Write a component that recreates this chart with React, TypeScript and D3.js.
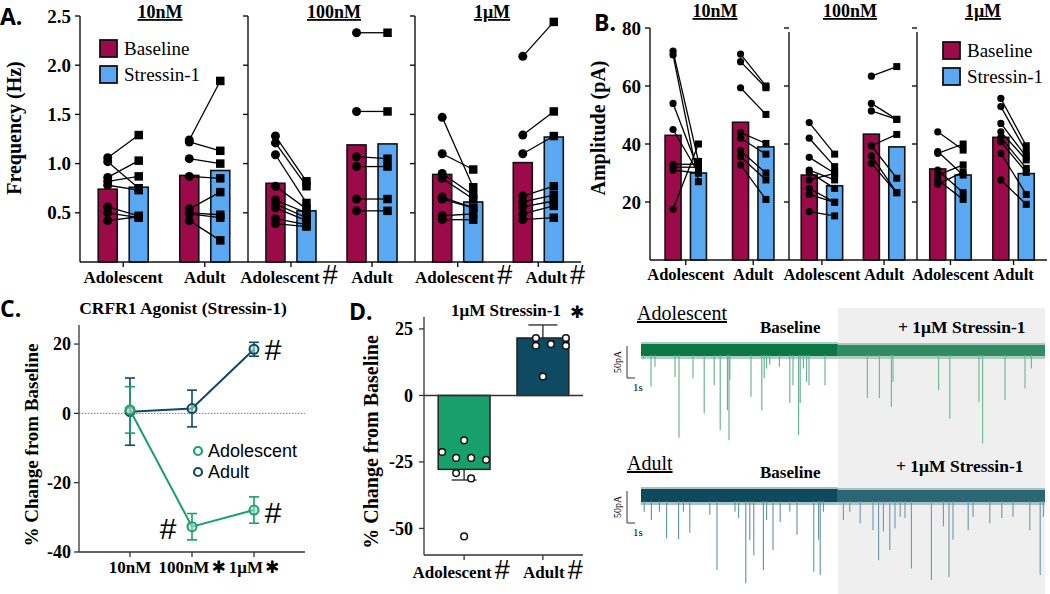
import React from 'react';
import * as d3 from 'd3';

// ---------- shared categories ----------
const GROUPS = ['Adolescent', 'Adult'];
const CONCS = ['10nM', '100nM', '1μM'];

// ---------- Panel A: frequency (Hz) ----------
const freqTicks = [0.5, 1.0, 1.5, 2.0, 2.5];
const freqBaselineMean = [[0.74, 0.88], [0.80, 1.19], [0.89, 1.01]]; // [conc][group]
const freqStressinMean = [[0.76, 0.93], [0.52, 1.20], [0.61, 1.27]];
const freqAdol10nM = [[1.06, 1.29], [1.02, 0.75], [0.86, 1.03], [0.82, 0.87], [0.78, 0.73], [0.56, 0.47], [0.50, 0.45], [0.42, 0.46]];
const freqAdult10nM = [[1.24, 1.84], [1.22, 1.13], [1.05, 1.0], [0.87, 0.85], [0.54, 0.71], [0.50, 0.48], [0.49, 0.45], [0.42, 0.22]];
const freqAdol100nM = [[1.28, 0.82], [1.21, 0.77], [1.09, 0.60], [0.77, 0.54], [0.63, 0.50], [0.59, 0.45], [0.55, 0.42], [0.44, 0.38], [0.39, 0.36]];
const freqAdult100nM = [[2.33, 2.33], [1.53, 1.53], [1.07, 1.05], [0.97, 0.97], [0.64, 0.64], [0.52, 0.52]];
const freqAdol1uM = [[1.47, 0.76], [1.10, 0.94], [0.90, 0.68], [0.85, 0.64], [0.66, 0.55], [0.64, 0.55], [0.47, 0.49], [0.43, 0.43]];
const freqAdult1uM = [[2.09, 2.44], [1.29, 1.53], [1.10, 1.28], [0.67, 0.77], [0.61, 0.68], [0.56, 0.62], [0.49, 0.57], [0.43, 0.45]];

// ---------- Panel B: amplitude (pA) ----------
const ampTicks = [20, 40, 60, 80];
const ampBaselineMean = [[43, 47.5], [29.3, 43.4], [31.4, 42.3]];
const ampStressinMean = [[30, 39], [25.6, 39], [29.3, 29.8]];
const ampAdol10nM = [[72, 34], [70.7, 27], [54, 31], [45, 30], [33, 33], [32, 32], [31, 30], [17.5, 40]];
const ampAdult10nM = [[71, 60], [68.4, 59.4], [59.4, 50.2], [43.9, 40.2], [42, 36.5], [37.7, 30], [35.6, 27.6], [32.8, 20.9]];
const ampAdol100nM = [[47.4, 36.5], [42, 32.2], [35.4, 29.9], [31, 27.6], [30.3, 24.7], [27.6, 29.9], [24.7, 19.9], [22.6, 19.9], [16.7, 15.2]];
const ampAdult100nM = [[63.4, 66.7], [54, 48.5], [51.4, 48.5], [39.4, 43.3], [39.4, 28.2], [35.9, 23.2], [33.3, 23.2]];
const ampAdol1uM = [[44.2, 37.9], [37.4, 29.3], [36.8, 40], [31, 23.2], [29.3, 32.8], [27.6, 20.9], [26.1, 30.4]];
const ampAdult1uM = [[55.7, 39.4], [52.9, 37.3], [47.1, 35.6], [44.2, 34.5], [42.3, 31.6], [40.8, 30.2], [36.8, 22.6], [27.6, 19.2]];

// ---------- Panel C: % change ----------
const cTicks = [-40, -20, 0, 20];
const cAdolMean = [1, -32.7, -27.9];
const cAdolSem = [6.7, 3.8, 3.8];
const cAdultMean = [0.5, 1.4, 18.5];
const cAdultSem = [9.7, 5.3, 2];

// ---------- Panel D: 1µM % change ----------
const dTicks = [-50, -25, 0, 25];
const dMean = [-27.8, 21.6];
const dSem = [4.0, 4.9];
const dAdolPoints = [-21.3, -16.9, -23.5, -23.5, -24.2, -29.2, -31.2, -53];
const dAdultPoints = [21.6, 18.7, 19.3, 21.6, 18.7, 7.1];
// horizontal jitter of the dots (layout only)
const dAdolJitter = [-22, 0, -8, 7, 22, -8, 7, 0];
const dAdultJitter = [-7, -7, 8, 23, 23, 0];

// ---------- Traces (time s, event amplitude pA) ----------
const traceSplit = 24.6;
const traceEnd = 50.5;
const adolSpikeTime = [0.3, 1.25, 1.75, 4.25, 4.75, 6.5, 7.9, 9.15, 9.9, 10.8, 11.0, 11.1, 13.75, 15.1, 15.4, 15.7, 16.1, 17.3, 18.6, 19.0, 19.7, 19.9, 20.3, 20.7, 21.0, 23.0, 28.3, 29.8, 31.3, 31.5, 37.2, 38.6, 42.25, 42.7, 45.5, 48.0, 48.8];
const adolSpikeAmp = [13, 57, 26, 42, 137, 44, 99, 55, 125, 94, 141, 47, 73, 94, 44, 29, 23, 26, 83, 55, 133, 83, 29, 50, 55, 55, 75, 75, 89, 50, 63, 107, 81, 146, 78, 60, 29];
const adultSpikeTime = [0.4, 1.3, 2.3, 3.2, 4.7, 5.3, 6.1, 8.6, 9.5, 11.75, 12.2, 13.1, 13.6, 14.1, 15.3, 15.7, 16.5, 17.4, 18.6, 19.5, 21.6, 22.2, 22.4, 22.8, 25.3, 26.1, 27.4, 29.0, 29.7, 30.3, 31.1, 31.75, 32.4, 33.0, 33.8, 36.3, 37.8, 38.5, 39.0, 40.9, 41.5, 43.6, 45.1, 46.5, 48.6, 49.9, 50.3];
const adultSpikeAmp = [26, 39, 26, 68, 69, 26, 59, 31, 117, 26, 36, 138, 70, 94, 117, 39, 86, 42, 26, 62, 120, 70, 125, 26, 39, 26, 44, 55, 102, 57, 86, 52, 34, 36, 115, 133, 49, 128, 70, 55, 34, 44, 36, 34, 55, 125, 34];

// ---------- styles ----------
const SERIF = "'Liberation Serif', 'Times New Roman', serif";
const SANS = "'Liberation Sans', Arial, sans-serif";
const HEAD = "'Open Sans', 'DejaVu Sans', sans-serif";
const BASE_C = '#9c0a4a';
const STRESS_C = '#5aa8f2';
const ADOL_C = '#17a06a';
const ADULT_C = '#0e4b62';

let measureCtx: CanvasRenderingContext2D | null = null;
function textW(s: string, size: number): number {
  if (!measureCtx && typeof document !== 'undefined') measureCtx = document.createElement('canvas').getContext('2d');
  if (!measureCtx) return s.length * size * 0.47;
  measureCtx.font = `bold ${size}px "Liberation Serif"`;
  return measureCtx.measureText(s).width;
}

function GroupLabel({ cx, y, text, size, hash, dx }: { cx: number; y: number; text: string; size: number; hash: boolean; dx: number }) {
  const w = textW(text, size);
  return (
    <g>
      <text x={cx + dx} y={y} textAnchor="middle" fontFamily={SERIF} fontWeight="bold" fontSize={size}>{text}</text>
      {hash ? <text x={cx + dx + w / 2 + 3} y={y + 1} fontFamily={SANS} fontSize={27}>#</text> : null}
    </g>
  );
}

type PP = {
  x0: number; x1: number; yTop: number; y: d3.ScaleLinear<number, number>;
  baseMean: number[]; stressMean: number[]; pairs: number[][][];
  barW: number; off: number; r: number; sq: number; ticks: number[];
  tickLabels: boolean; fmt: (v: number) => string; hashes: boolean[]; labelDx: number[]; labelY: number; labelSize: number;
};

function PairedPanel(p: PP) {
  const xs = d3.scalePoint<string>().domain(GROUPS).range([p.x0, p.x1]).padding(0.53);
  const y0 = p.y(0);
  return (
    <g>
      {GROUPS.map((g, gi) => {
        const cx = xs(g) as number;
        return (
          <g key={g}>
            <rect x={cx - p.off - p.barW / 2} y={p.y(p.baseMean[gi])} width={p.barW} height={y0 - p.y(p.baseMean[gi])} fill={BASE_C} stroke="#111" strokeWidth={1.6} />
            <rect x={cx + p.off - p.barW / 2} y={p.y(p.stressMean[gi])} width={p.barW} height={y0 - p.y(p.stressMean[gi])} fill={STRESS_C} stroke="#111" strokeWidth={1.6} />
            {p.pairs[gi].map(([a, b], i) => (
              <line key={'l' + i} x1={cx - p.off} y1={p.y(a)} x2={cx + p.off} y2={p.y(b)} stroke="#000" strokeWidth={1.3} />
            ))}
            {p.pairs[gi].map(([a], i) => (
              <circle key={'c' + i} cx={cx - p.off} cy={p.y(a)} r={p.r} fill="#000" />
            ))}
            {p.pairs[gi].map(([, b], i) => (
              <rect key={'s' + i} x={cx + p.off - p.sq / 2} y={p.y(b) - p.sq / 2} width={p.sq} height={p.sq} fill="#000" />
            ))}
            <line x1={cx} x2={cx} y1={y0} y2={y0 + 5} stroke="#111" strokeWidth={1.4} />
            <GroupLabel cx={cx} y={p.labelY} text={g} size={p.labelSize} hash={p.hashes[gi]} dx={p.labelDx[gi]} />
          </g>
        );
      })}
      <line x1={p.x0} x2={p.x0} y1={p.yTop} y2={y0} stroke="#111" strokeWidth={1.4} />
      <line x1={p.x0} x2={p.x1} y1={y0} y2={y0} stroke="#111" strokeWidth={1.4} />
      {p.ticks.map(t => (
        <line key={t} x1={p.x0 - 5} x2={p.x0} y1={p.y(t)} y2={p.y(t)} stroke="#111" strokeWidth={1.4} />
      ))}
      {p.tickLabels && p.ticks.map(t => (
        <text key={'t' + t} x={p.x0 - 9} y={p.y(t)} dy="0.35em" textAnchor="end" fontFamily={SERIF} fontWeight="bold" fontSize={19}>{p.fmt(t)}</text>
      ))}
    </g>
  );
}

function Legend({ x, y }: { x: number; y: number }) {
  return (
    <g>
      <rect x={x} y={y} width={17} height={17} fill={BASE_C} stroke="#111" strokeWidth={1.8} />
      <rect x={x} y={y + 26} width={17} height={17} fill={STRESS_C} stroke="#111" strokeWidth={1.8} />
      <text x={x + 24} y={y + 15} fontFamily={SERIF} fontSize={19}>Baseline</text>
      <text x={x + 24} y={y + 41} fontFamily={SERIF} fontSize={19}>Stressin-1</text>
    </g>
  );
}

function Trace({ times, amps, y0, bandTop, bandBot, baseBand, baseSpike, drugBand, drugSpike }: any) {
  const xt = d3.scaleLinear().domain([0, traceEnd]).range([641, 1045]);
  const ya = d3.scaleLinear().domain([0, 50]).range([0, 32]);
  const segs = [
    { a: 0, b: traceSplit, band: baseBand, top: bandTop },
    { a: traceSplit, b: traceEnd, band: drugBand, top: bandTop + 1 },
  ];
  return (
    <g>
      {segs.map((s, i) => (
        <g key={i}>
          <rect x={xt(s.a)} y={s.top - 2} width={xt(s.b) - xt(s.a)} height={bandBot - s.top + 5} fill={s.band} opacity={0.35} />
          <rect x={xt(s.a)} y={s.top} width={xt(s.b) - xt(s.a)} height={bandBot - s.top} fill={s.band} />
        </g>
      ))}
      {times.map((t: number, i: number) => (
        <line key={i} x1={xt(t)} x2={xt(t)} y1={bandBot - 1} y2={y0 + ya(amps[i])} stroke={t < traceSplit ? baseSpike : drugSpike} strokeWidth={1.1} />
      ))}
      <line x1={627} x2={627} y1={bandTop + 2} y2={bandTop + 2 + ya(50)} stroke="#333" strokeWidth={1} />
      <line x1={627} x2={627 + (xt(1) - xt(0))} y1={bandTop + 2 + ya(50)} y2={bandTop + 2 + ya(50)} stroke="#333" strokeWidth={1} />
      <text transform={`translate(621,${bandTop + 2 + ya(25)}) rotate(-90)`} textAnchor="middle" fontFamily={SERIF} fontSize={10}>50pA</text>
      <text x={633} y={bandTop + 2 + ya(50) + 13} fontFamily={SERIF} fontSize={11}>1s</text>
    </g>
  );
}

export default function App() {
  // Panel A
  const yA = d3.scaleLinear().domain([0, 2.5]).range([262, 16]);
  const aRanges = [[80, 248], [248, 415], [415, 581]];
  const freqPairs = [[freqAdol10nM, freqAdult10nM], [freqAdol100nM, freqAdult100nM], [freqAdol1uM, freqAdult1uM]];
  const aHashes = [[false, false], [true, false], [true, true]];
  const aLabelDx = [[0, 0], [-11, 0], [-3, 8]];
  // Panel B
  const yB = d3.scaleLinear().domain([0, 80]).range([260, 28]);
  const bRanges = [[650, 789], [789, 917], [917, 1047]];
  const bTops = [28, 32, 32];
  const ampPairs = [[ampAdol10nM, ampAdult10nM], [ampAdol100nM, ampAdult100nM], [ampAdol1uM, ampAdult1uM]];
  // Panel C
  const xC = d3.scalePoint<string>().domain(CONCS).range([130, 254]);
  const yC = d3.scaleLinear().domain([-40, 25.5]).range([552, 325]);
  const lineC = d3.line<number>().x((_, i) => xC(CONCS[i]) as number).y(v => yC(v));
  // Panel D
  const xD = d3.scaleBand<string>().domain(GROUPS).range([424, 583]).paddingInner(0.342).paddingOuter(0.18);
  const yD = d3.scaleLinear().domain([-60, 29.6]).range([555, 316.7]);
  const dColors = [ADOL_C, ADULT_C];
  const dPoints = [dAdolPoints, dAdultPoints];
  const dJit = [dAdolJitter, dAdultJitter];
  const dLabelDx = [-12, 1];

  return (
    <svg width={1050} height={594} style={{ position: 'absolute', left: 0, top: 0, background: '#fff' }}>
      <rect width={1050} height={594} fill="#fff" />
      {/* ===== Panel A ===== */}
      <text x={0} y={25} fontFamily={HEAD} fontWeight="bold" fontSize={23}>A.</text>
      <text transform="translate(21,128) rotate(-90)" textAnchor="middle" fontFamily={SERIF} fontWeight="bold" fontSize={20}>Frequency (Hz)</text>
      {CONCS.map((c, ci) => (
        <g key={c}>
          <PairedPanel x0={aRanges[ci][0]} x1={aRanges[ci][1]} yTop={16} y={yA}
            baseMean={freqBaselineMean[ci]} stressMean={freqStressinMean[ci]} pairs={freqPairs[ci]}
            barW={19} off={15.5} r={4.5} sq={8.5} ticks={freqTicks} tickLabels={ci === 0}
            fmt={d3.format('.1f')} hashes={aHashes[ci]} labelDx={aLabelDx[ci]} labelY={283} labelSize={17} />
          <text x={[160, 334, 492][ci]} y={18} textAnchor="middle" fontFamily={SERIF} fontWeight="bold" fontSize={18} textDecoration="underline">{c}</text>
        </g>
      ))}
      <Legend x={100} y={40} />

      {/* ===== Panel B ===== */}
      <text x={594} y={31} fontFamily={HEAD} fontWeight="bold" fontSize={23}>B.</text>
      <text transform="translate(605,128) rotate(-90)" textAnchor="middle" fontFamily={SERIF} fontWeight="bold" fontSize={20}>Amplitude (pA)</text>
      {CONCS.map((c, ci) => (
        <g key={c}>
          <PairedPanel x0={bRanges[ci][0]} x1={bRanges[ci][1]} yTop={bTops[ci]} y={yB}
            baseMean={ampBaselineMean[ci]} stressMean={ampStressinMean[ci]} pairs={ampPairs[ci]}
            barW={16} off={12.7} r={3.6} sq={7} ticks={ampTicks} tickLabels={ci === 0}
            fmt={d3.format('d')} hashes={[false, false]} labelDx={[0, 0]} labelY={280} labelSize={16.5} />
          <text x={[715, 850, 983][ci]} y={17} textAnchor="middle" fontFamily={SERIF} fontWeight="bold" fontSize={18} textDecoration="underline">{c}</text>
        </g>
      ))}
      <Legend x={943} y={42} />

      {/* ===== Panel C ===== */}
      <text x={0} y={317} fontFamily={HEAD} fontWeight="bold" fontSize={23}>C.</text>
      <text x={183} y={314} textAnchor="middle" fontFamily={SERIF} fontWeight="bold" fontSize={17.5}>CRFR1 Agonist (Stressin-1)</text>
      <text transform="translate(38,445) rotate(-90)" textAnchor="middle" fontFamily={SERIF} fontWeight="bold" fontSize={19}>% Change from Baseline</text>
      <line x1={79} x2={79} y1={325} y2={552} stroke="#333" strokeWidth={1.3} />
      <line x1={79} x2={305} y1={552} y2={552} stroke="#333" strokeWidth={1.3} />
      <line x1={79} x2={305} y1={yC(0)} y2={yC(0)} stroke="#555" strokeWidth={0.8} strokeDasharray="1.5,1.5" />
      {cTicks.map(t => (
        <g key={t}>
          <line x1={74} x2={79} y1={yC(t)} y2={yC(t)} stroke="#333" strokeWidth={1.3} />
          <text x={71} y={yC(t)} dy="0.35em" textAnchor="end" fontFamily={SERIF} fontWeight="bold" fontSize={18}>{t}</text>
        </g>
      ))}
      {CONCS.map((c, i) => (
        <g key={c}>
          <line x1={xC(c)} x2={xC(c)} y1={552} y2={557} stroke="#333" strokeWidth={1.3} />
          <text x={xC(c)} y={573} textAnchor="middle" fontFamily={SERIF} fontWeight="bold" fontSize={17}>
            {c}
            {i > 0 ? <tspan fontFamily="'DejaVu Sans', sans-serif" fontSize={17} dx={2}>✱</tspan> : null}
          </text>
        </g>
      ))}
      {[{ m: cAdultMean, s: cAdultSem, col: ADULT_C }, { m: cAdolMean, s: cAdolSem, col: ADOL_C }].map((ser, si) => (
        <g key={si}>
          <path d={lineC(ser.m) || ''} fill="none" stroke={ser.col} strokeWidth={2} />
          {ser.m.map((v, i) => {
            const cx = xC(CONCS[i]) as number;
            return (
              <g key={i}>
                <line x1={cx} x2={cx} y1={yC(v + ser.s[i])} y2={yC(v - ser.s[i])} stroke={ser.col} strokeWidth={1.6} />
                <line x1={cx - 5} x2={cx + 5} y1={yC(v + ser.s[i])} y2={yC(v + ser.s[i])} stroke={ser.col} strokeWidth={1.6} />
                <line x1={cx - 5} x2={cx + 5} y1={yC(v - ser.s[i])} y2={yC(v - ser.s[i])} stroke={ser.col} strokeWidth={1.6} />
                <circle cx={cx} cy={yC(v)} r={4.5} fill="#b9dccd" fillOpacity={0.6} stroke={ser.col} strokeWidth={2} />
              </g>
            );
          })}
        </g>
      ))}
      <text x={273} y={yC(cAdultMean[2])} dy="0.35em" textAnchor="middle" fontFamily={SANS} fontSize={30}>#</text>
      <text x={168} y={yC(cAdolMean[1]) + 2} dy="0.35em" textAnchor="middle" fontFamily={SANS} fontSize={30}>#</text>
      <text x={273} y={yC(cAdolMean[2]) + 2} dy="0.35em" textAnchor="middle" fontFamily={SANS} fontSize={30}>#</text>
      <circle cx={198} cy={451} r={4} fill="#fff" stroke={ADOL_C} strokeWidth={2.2} />
      <circle cx={198} cy={472} r={4} fill="#fff" stroke={ADULT_C} strokeWidth={2.2} />
      <text x={208} y={457} fontFamily={SANS} fontSize={18}>Adolescent</text>
      <text x={208} y={478} fontFamily={SANS} fontSize={18}>Adult</text>

      {/* ===== Panel D ===== */}
      <text x={349} y={320} fontFamily={HEAD} fontWeight="bold" fontSize={23}>D.</text>
      <text x={506} y={316} textAnchor="middle" fontFamily={SERIF} fontWeight="bold" fontSize={17}>1μM Stressin-1</text>
      <text x={577} y={318} textAnchor="middle" fontFamily="'DejaVu Sans', sans-serif" fontSize={17}>✱</text>
      <text transform="translate(378,442) rotate(-90)" textAnchor="middle" fontFamily={SERIF} fontWeight="bold" fontSize={20}>% Change from Baseline</text>
      {GROUPS.map((g, gi) => {
        const bx = xD(g) as number;
        const bw = xD.bandwidth();
        const cx = bx + bw / 2;
        const m = dMean[gi];
        const eEnd = m < 0 ? m - dSem[gi] : m + dSem[gi];
        const capW = gi === 0 ? 12.5 : 14.5;
        return (
          <g key={g}>
            <line x1={cx} x2={cx} y1={yD(m)} y2={yD(eEnd)} stroke="#333" strokeWidth={1.4} />
            <line x1={cx - capW} x2={cx + capW} y1={yD(eEnd)} y2={yD(eEnd)} stroke="#333" strokeWidth={1.4} />
            <rect x={bx} y={Math.min(yD(m), yD(0))} width={bw} height={Math.abs(yD(m) - yD(0))} fill={dColors[gi]} stroke="#222" strokeWidth={1.5} />
            {dPoints[gi].map((v, i) => (
              <circle key={i} cx={cx + dJit[gi][i]} cy={yD(v)} r={3.3} fill="#fff" stroke="#111" strokeWidth={1.5} />
            ))}
            <line x1={cx} x2={cx} y1={555} y2={560} stroke="#333" strokeWidth={1.3} />
            <GroupLabel cx={cx} y={578} text={g} size={17} hash={true} dx={dLabelDx[gi]} />
          </g>
        );
      })}
      <line x1={424} x2={583} y1={yD(0)} y2={yD(0)} stroke="#333" strokeWidth={1.5} />
      <line x1={424} x2={424} y1={316.7} y2={555} stroke="#333" strokeWidth={1.3} />
      <line x1={424} x2={583} y1={555} y2={555} stroke="#333" strokeWidth={1.3} />
      {dTicks.map(t => (
        <g key={t}>
          <line x1={419} x2={424} y1={yD(t)} y2={yD(t)} stroke="#333" strokeWidth={1.3} />
          <text x={413} y={yD(t)} dy="0.35em" textAnchor="end" fontFamily={SERIF} fontWeight="bold" fontSize={18}>{t}</text>
        </g>
      ))}

      {/* ===== Traces ===== */}
      <rect x={838} y={308} width={207} height={286} fill="#efefef" />
      <text x={637} y={320} fontFamily={SERIF} fontSize={20} textDecoration="underline">Adolescent</text>
      <text x={760} y={333} fontFamily={SERIF} fontWeight="bold" fontSize={17}>Baseline</text>
      <text x={898} y={333} fontFamily={SERIF} fontWeight="bold" fontSize={17.5}>+ 1μM Stressin-1</text>
      <Trace times={adolSpikeTime} amps={adolSpikeAmp} y0={350} bandTop={344} bandBot={356}
        baseBand="#0b7646" baseSpike="#5fae8a" drugBand="#2f8c63" drugSpike="#6cb595" />
      <text x={627} y={470} fontFamily={SERIF} fontSize={20} textDecoration="underline">Adult</text>
      <text x={760} y={478} fontFamily={SERIF} fontWeight="bold" fontSize={17}>Baseline</text>
      <text x={896} y={472} fontFamily={SERIF} fontWeight="bold" fontSize={17.5}>+ 1μM Stressin-1</text>
      <Trace times={adultSpikeTime} amps={adultSpikeAmp} y0={495} bandTop={489} bandBot={502}
        baseBand="#0d4a5c" baseSpike="#5d93a3" drugBand="#2a6673" drugSpike="#6a9aa6" />
    </svg>
  );
}
